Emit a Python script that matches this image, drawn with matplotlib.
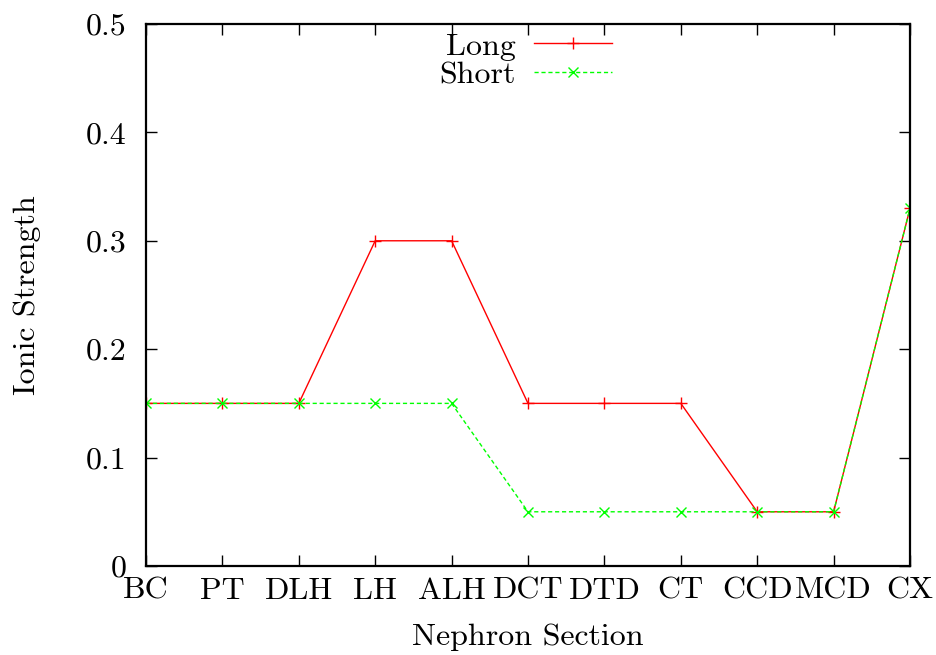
import matplotlib
matplotlib.use("Agg")
import matplotlib.pyplot as plt

# ── data ──────────────────────────────────────────────────────────────────────
sections = ["BC", "PT", "DLH", "LH", "ALH", "DCT", "DTD", "CT", "CCD", "MCD", "CX"]
long_vals = [0.15, 0.15, 0.15, 0.30, 0.30, 0.15, 0.15, 0.15, 0.05, 0.05, 0.33]
short_vals = [0.15, 0.15, 0.15, 0.15, 0.15, 0.05, 0.05, 0.05, 0.05, 0.05, 0.33]
y_ticks = [0, 0.1, 0.2, 0.3, 0.4, 0.5]
y_tick_labels = ["0", "0.1", "0.2", "0.3", "0.4", "0.5"]

# ── style ─────────────────────────────────────────────────────────────────────
plt.rcParams["font.family"] = ["cmr10", "DejaVu Serif"]
plt.rcParams["axes.formatter.use_mathtext"] = True
FS = 23

fig = plt.figure(figsize=(9.37, 6.55), dpi=100)
ax = fig.add_axes([0.1558, 0.1359, 0.9712 - 0.1558, 0.9634 - 0.1359])

x = list(range(len(sections)))
ax.plot(x, long_vals, color="#ff0000", lw=1.0, marker="+", ms=9, mew=1.0,
        label="Long")
ax.plot(x, short_vals, color="#00ff00", lw=1.0, ls=(0, (3, 2)), marker="x",
        ms=7, mew=1.0, label="Short")

ax.set_xlim(0, len(sections) - 1)
ax.set_ylim(0, 0.5)
ax.set_xticks(x)
ax.set_xticklabels(sections, fontsize=FS)
ax.set_yticks(y_ticks)
ax.set_yticklabels(y_tick_labels, fontsize=FS)
ax.tick_params(direction="in", length=8, width=1.0, top=True, right=True)
ax.tick_params(axis="x", pad=8)
ax.tick_params(axis="y", pad=14)
for s in ax.spines.values():
    s.set_linewidth(1.6)

ax.set_xlabel("Nephron Section", fontsize=FS, labelpad=14)
ax.set_ylabel("Ionic Strength", fontsize=FS, labelpad=32)

leg = ax.legend(loc="upper center", bbox_to_anchor=(0.497, 1.02),
                frameon=False, markerfirst=False, fontsize=FS,
                handlelength=2.45, handletextpad=0.55, labelspacing=0.0,
                borderaxespad=0.2)

fig.savefig("out.png", dpi=100)
